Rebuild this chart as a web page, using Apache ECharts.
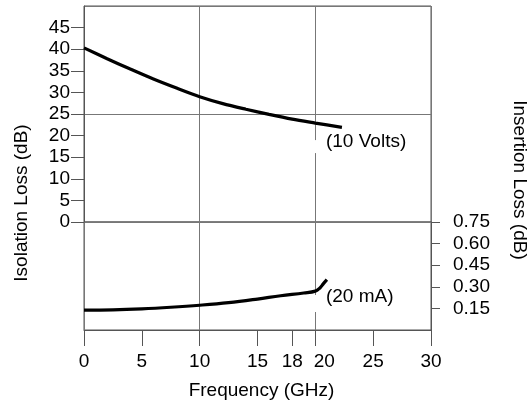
<!DOCTYPE html>
<html>
<head>
<meta charset="utf-8">
<script src="https://cdn.jsdelivr.net/npm/echarts@6/dist/echarts.min.js"></script>
<style>
html,body{margin:0;padding:0;background:#fff;}
#c{width:531px;height:407px;}
</style>
</head>
<body>
<div id="c"></div>
<script>
// Isolation loss (top panel), 10 Volts
const isoFreq = [0, 2, 4, 6, 8, 10, 12, 14, 16, 18, 20, 22.3];
const isoLoss = [40.3, 37.8, 35.4, 33.1, 31.0, 29.0, 27.4, 26.1, 24.9, 23.8, 22.9, 21.9];
// Insertion loss (bottom panel), 20 mA
const insFreq = [0, 2.5, 5, 7.5, 10, 12.5, 15, 17, 19, 20, 20.4, 20.7, 21];
const insLoss = [0.138, 0.140, 0.147, 0.158, 0.172, 0.19, 0.215, 0.238, 0.257, 0.27, 0.292, 0.322, 0.35];
// Tick labels
const freqTicks = [0, 5, 10, 15, 18, 20, 25, 30];
const isoTicks = [0, 5, 10, 15, 20, 25, 30, 35, 40, 45];
const insTicks = [0.15, 0.30, 0.45, 0.60, 0.75];
// Annotations
const isoNote = {text: '(10 Volts)', f: 19.71, v: 18.5};
const insNote = {text: '(20 mA)', f: 19.71, v: 0.229};

const FONT = 'Liberation Sans, Arial, Helvetica, sans-serif';
const AX = '#555';
const GR = '#777';

const chart = echarts.init(document.getElementById('c'), null, {renderer: 'canvas'});
const pairs = (xs, ys) => xs.map((x, i) => [x, ys[i]]);

chart.setOption({
  animation: false,
  backgroundColor: '#fff',
  textStyle: {fontFamily: FONT},
  grid: [
    {left: 84, right: 100, top: 6, height: 216, show: true, borderColor: AX, borderWidth: 1},
    {left: 84, right: 100, top: 222, height: 108, show: true, borderColor: AX, borderWidth: 1}
  ],
  xAxis: [
    {gridIndex: 0, type: 'value', min: 0, max: 30, interval: 10,
     axisLine: {show: false, onZero: false}, axisTick: {show: false}, axisLabel: {show: false},
     splitLine: {show: true, lineStyle: {color: GR, width: 1}}},
    {gridIndex: 1, type: 'value', position: 'bottom', min: 0, max: 30, interval: 5,
     axisLine: {show: true, onZero: false, lineStyle: {color: AX}},
     axisTick: {show: true, length: 16, customValues: freqTicks, lineStyle: {color: AX}},
     axisLabel: {show: true, customValues: freqTicks, margin: 22, color: '#000', fontSize: 19, fontFamily: FONT,
       formatter: v => (v === 20 ? '{s|20}' : String(v)),
       rich: {s: {color: '#000', fontSize: 19, fontFamily: FONT, padding: [0, 0, 0, 18]}}},
     splitLine: {show: false},
     name: 'Frequency (GHz)', nameLocation: 'middle', nameGap: 51,
     nameTextStyle: {color: '#000', fontSize: 19, fontFamily: FONT, padding: [0, 0, 0, 8]}},
    {gridIndex: 1, type: 'value', position: 'top', min: 0, max: 30, interval: 10,
     axisLine: {show: false, onZero: false}, axisTick: {show: false}, axisLabel: {show: false},
     splitLine: {show: true, lineStyle: {color: GR, width: 1}}}
  ],
  yAxis: [
    {gridIndex: 0, type: 'value', position: 'left', min: 0, max: 50, interval: 5,
     axisLine: {show: true, onZero: false, lineStyle: {color: AX}},
     axisTick: {show: true, length: 13, customValues: isoTicks, lineStyle: {color: AX}},
     axisLabel: {show: true, customValues: isoTicks, margin: 14, color: '#000', fontSize: 19, fontFamily: FONT},
     splitLine: {show: false}},
    {gridIndex: 0, type: 'value', position: 'right', min: 0, max: 50, interval: 25,
     axisLine: {show: false, onZero: false}, axisTick: {show: false}, axisLabel: {show: false},
     splitLine: {show: true, lineStyle: {color: GR, width: 1}}},
    {gridIndex: 1, type: 'value', position: 'right', min: 0, max: 0.75, interval: 0.15,
     axisLine: {show: true, onZero: false, lineStyle: {color: AX}},
     axisTick: {show: true, length: 9, customValues: insTicks, lineStyle: {color: AX}},
     axisLabel: {show: true, customValues: insTicks, margin: 22, color: '#000', fontSize: 19, fontFamily: FONT,
       formatter: v => Number(v).toFixed(2)},
     splitLine: {show: false}}
  ],
  graphic: [
    {type: 'text', x: 22, y: 203, rotation: Math.PI / 2,
     style: {text: 'Isolation Loss (dB)', fill: '#000', font: '19px ' + FONT, align: 'center', verticalAlign: 'middle'}},
    {type: 'text', x: 519, y: 180, rotation: -Math.PI / 2,
     style: {text: 'Insertion Loss (dB)', fill: '#000', font: '19px ' + FONT, align: 'center', verticalAlign: 'middle'}}
  ],
  series: [
    {type: 'line', xAxisIndex: 0, yAxisIndex: 0, data: pairs(isoFreq, isoLoss),
     showSymbol: false, smooth: 0.3, lineStyle: {color: '#000', width: 3.2}, z: 5,
     markPoint: {symbol: 'circle', symbolSize: 0, silent: true, z: 4,
       data: [{coord: [isoNote.f, isoNote.v], value: isoNote.text}],
       label: {show: true, position: [0, 0], align: 'left', verticalAlign: 'middle', lineHeight: 22,
         formatter: '{g|}{t|' + isoNote.text + '}',
         rich: {g: {width: 14, height: 13, backgroundColor: '#fff', verticalAlign: 'bottom'},
                t: {color: '#000', fontSize: 19, fontFamily: FONT, lineHeight: 22}}}}},
    {type: 'line', xAxisIndex: 1, yAxisIndex: 2, data: pairs(insFreq, insLoss),
     showSymbol: false, smooth: 0.4, lineStyle: {color: '#000', width: 3.2}, z: 5,
     markPoint: {symbol: 'circle', symbolSize: 0, silent: true, z: 4,
       data: [{coord: [insNote.f, insNote.v], value: insNote.text}],
       label: {show: true, position: [0, 0], align: 'left', verticalAlign: 'middle', lineHeight: 30,
         formatter: '{g|}{t|' + insNote.text + '}',
         rich: {g: {width: 14, height: 17, backgroundColor: '#fff', verticalAlign: 'bottom'},
                t: {color: '#000', fontSize: 19, fontFamily: FONT, lineHeight: 30}}}}}
  ]
});
</script>
</body>
</html>
